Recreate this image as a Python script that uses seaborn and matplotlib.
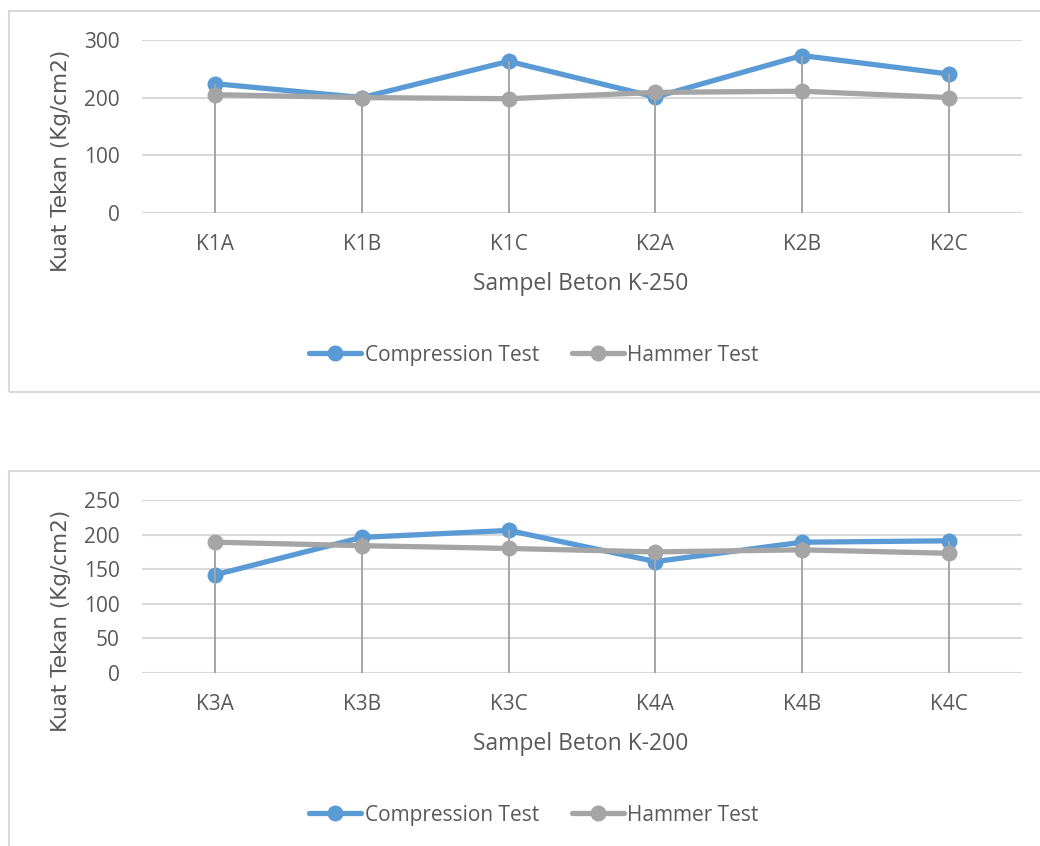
import numpy as np
import pandas as pd
import matplotlib
matplotlib.use("Agg")
import matplotlib.pyplot as plt
import seaborn as sns
from matplotlib.patches import Rectangle

# ---- data ----
cats_top = ["K1A", "K1B", "K1C", "K2A", "K2B", "K2C"]
comp_top = [224, 200, 263, 201, 273, 241]
hammer_top = [205, 200, 198, 209, 211, 200]

cats_bot = ["K3A", "K3B", "K3C", "K4A", "K4B", "K4C"]
comp_bot = [142, 196, 206, 161, 189, 191]
hammer_bot = [189, 184, 180, 175, 178, 173]

series = ["Compression Test", "Hammer Test"]
xlabels = ["Sampel Beton K-250", "Sampel Beton K-200"]
ylabel = "Kuat Tekan (Kg/cm2)"
yticks_top = [0, 100, 200, 300]
yticks_bot = [0, 50, 100, 150, 200, 250]

# ---- style ----
sns.set_style("white")
plt.rcParams["font.family"] = ["Open Sans", "DejaVu Sans"]
BLUE = "#5B9BD5"
GREY = "#A5A5A5"
GRID = "#D9D9D9"
TXT = "#595959"

W, H = 1040, 846
fig = plt.figure(figsize=(W / 100, H / 100), dpi=100)


def rect(l, t, r, b):
    return [l / W, 1 - b / H, (r - l) / W, (b - t) / H]


# chart borders
for (t, b) in [(11, 392), (471, 860)]:
    fig.patches.append(Rectangle((8.5 / W, 1 - b / H), (1060 - 8.5) / W, (b - t) / H,
                                 transform=fig.transFigure, fill=False,
                                 edgecolor=GRID, linewidth=1.5))

panels = [
    (cats_top, comp_top, hammer_top, yticks_top, xlabels[0], 40, 212.7, 0),
    (cats_bot, comp_bot, hammer_bot, yticks_bot, xlabels[1], 500, 673, 460),
]

for cats, comp, ham, yt, xl, top, bot, off in panels:
    ax = fig.add_axes(rect(142, top, 1022, bot))
    df = pd.DataFrame({
        "x": list(range(len(cats))) * 2,
        "value": list(comp) + list(ham),
        "series": [series[0]] * len(cats) + [series[1]] * len(cats),
    })
    # drop lines
    hi = np.maximum(np.array(comp), np.array(ham))
    ax.vlines(range(len(cats)), 0, hi, color=GREY, linewidth=1.4, zorder=4)
    sns.lineplot(data=df, x="x", y="value", hue="series", hue_order=series,
                 palette=[BLUE, GREY], marker="o", markersize=11.5,
                 markeredgewidth=0, linewidth=3.8, ax=ax, zorder=3,
                 legend=True)
    handles, labels = ax.get_legend_handles_labels()
    ax.get_legend().remove()

    ax.set_xlim(-0.5, len(cats) - 0.5)
    ax.set_ylim(yt[0], yt[-1])
    ax.set_yticks(yt)
    ax.set_xticks(range(len(cats)))
    ax.set_xticklabels(cats)
    ax.set_xlabel("")
    ax.set_ylabel("")
    for s in ax.spines.values():
        s.set_visible(False)
    ax.yaxis.grid(True, color=GRID, linewidth=1.5, zorder=0)
    ax.set_axisbelow(True)
    ax.tick_params(axis="both", length=0, labelsize=15, colors=TXT)
    ax.tick_params(axis="y", pad=16)
    ax.tick_params(axis="x", pad=15)
    ax.patch.set_alpha(0)

    fig.text(581 / W, 1 - (284 + off) / H, xl, ha="center", va="center",
             fontsize=16.5, color=TXT)
    fig.text(61 / W, 1 - (161 + off) / H, ylabel, ha="center", va="center",
             rotation=90, fontsize=15.5, color=TXT, family=["DejaVu Sans"])

    leg = fig.legend(handles, labels, loc="center",
                     bbox_to_anchor=(534 / W, 1 - (355 + off) / H),
                     ncol=2, frameon=False, fontsize=15,
                     handlelength=2.5, handletextpad=0.15, columnspacing=1.6,
                     labelcolor=TXT)

fig.savefig("out.png", dpi=100, facecolor="white")
